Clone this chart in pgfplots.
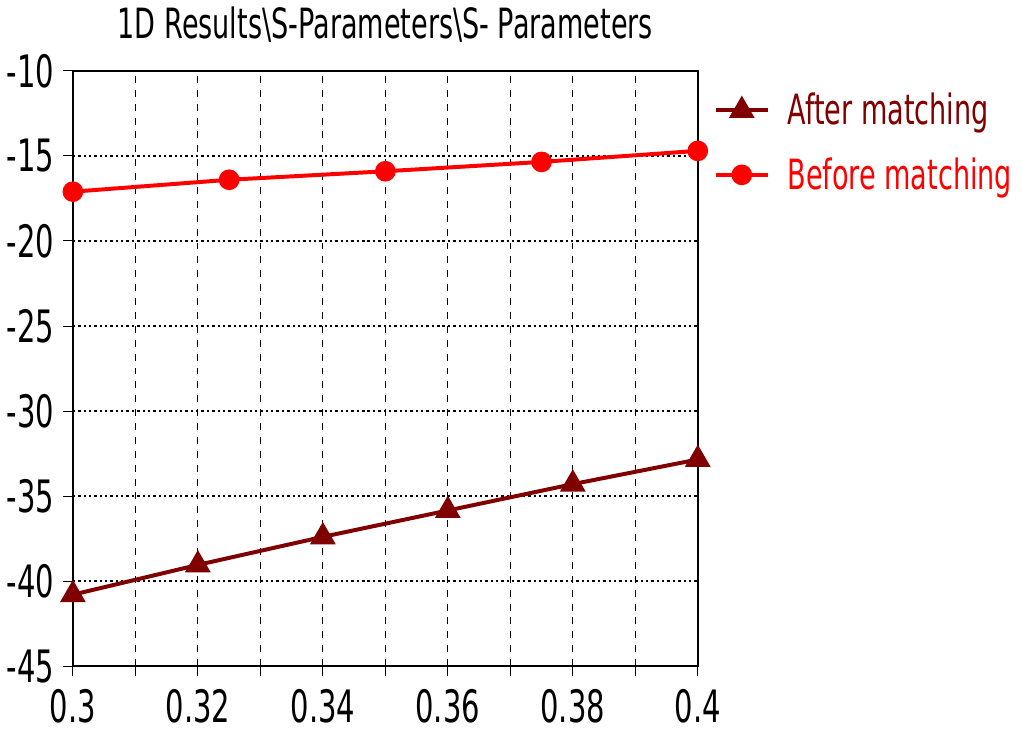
\documentclass[border=0pt]{standalone}
\usepackage{pgfplots}
\pgfplotsset{compat=1.18}
\usepackage{fontspec}
\setmainfont{DejaVu Sans}[FakeStretch=0.65]
\definecolor{aftc}{RGB}{128,0,0}
\definecolor{befc}{RGB}{255,0,0}
\begin{document}
\begin{tikzpicture}
\begin{axis}[
  scale only axis,
  width=315pt, height=300pt,
  xmin=0.3, xmax=0.4, ymin=-45, ymax=-10,
  xtick={0.3,0.31,0.32,0.33,0.34,0.35,0.36,0.37,0.38,0.39,0.4},
  xticklabels={0.3,,0.32,,0.34,,0.36,,0.38,,0.4},
  ytick={-45,-40,-35,-30,-25,-20,-15,-10},
  yticklabels={-45,-40,-35,-30,-25,-20,-15,-10},
  tick align=outside,
  xtick pos=bottom, ytick pos=left,
  major tick length=5pt,
  tick style={black, line width=0.5pt},
  axis line style={black, line width=0.8pt},
  xmajorgrids, ymajorgrids,
  x grid style={black, line width=0.5pt, dash pattern=on 3.5pt off 3.5pt},
  y grid style={black, line width=0.6pt, dash pattern=on 1.2pt off 1.5pt},
  ticklabel style={font=\fontsize{22.5}{24}\selectfont},
  xticklabel style={yshift=-3pt},
  yticklabel style={xshift=-1pt},
  title={1D Results\textbackslash S-Parameters\textbackslash S- Parameters},
  title style={font=\fontsize{21}{23}\selectfont, at={(0.5,1)}, anchor=south, yshift=5pt},
  legend style={at={(1,1)}, anchor=north west, draw=none, fill=none,
    font=\fontsize{21}{23}\selectfont, row sep=11pt, xshift=5pt, yshift=-7pt},
  legend cell align=left,
  legend image code/.code={
    \draw[mark repeat=2, mark phase=2] plot coordinates {(0pt,0pt) (13pt,0pt) (26pt,0pt)};
    \path (33pt,0pt);
  },
]
\addplot[color=aftc, line width=2pt, mark=triangle*, mark size=5.5pt, mark options={solid}]
  coordinates {(0.30,-40.8) (0.32,-39.05) (0.34,-37.4) (0.36,-35.85) (0.38,-34.3) (0.40,-32.85)};
\addlegendentry{\textcolor{aftc}{After matching}}
\addplot[color=befc, line width=2pt, mark=*, mark size=4.2pt]
  coordinates {(0.30,-17.1) (0.325,-16.4) (0.35,-15.9) (0.375,-15.35) (0.40,-14.7)};
\addlegendentry{\textcolor{befc}{Before matching}}
\end{axis}
\path (current axis.south) ++(0pt,-38pt) coordinate (padbottom);
\path (padbottom) -- ++(0pt,0.1pt);
\end{tikzpicture}
\end{document}
